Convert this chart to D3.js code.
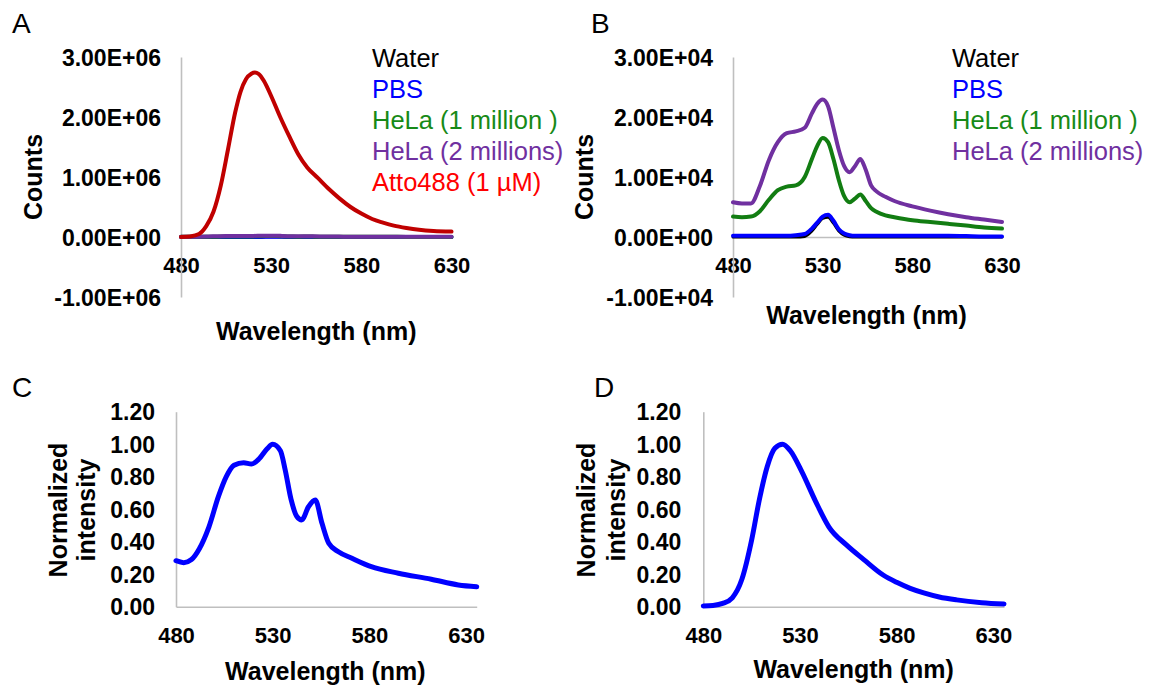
<!DOCTYPE html>
<html><head><meta charset="utf-8">
<script src="https://cdn.jsdelivr.net/npm/d3@7"></script>
<style>
body{margin:0;background:#fff;}
svg{display:block;}
</style></head><body>
<svg id="chart" width="1157" height="686"></svg>
<script>
// ---------- DATA ----------
const xTicks = [480, 530, 580, 630];
const countTicksA = [-1e6, 0, 1e6, 2e6, 3e6];
const countTicksB = [-1e4, 0, 1e4, 2e4, 3e4];
const normTicks = [0, 0.2, 0.4, 0.6, 0.8, 1.0, 1.2];

const legendNames = ["Water", "PBS", "HeLa (1 million )", "HeLa (2 millions)", "Atto488 (1 µM)"];

// Atto488 emission (counts)
const wlAtto = [480, 485, 490, 494, 498, 502, 506, 510, 513, 516, 519, 521, 523, 526, 530, 535, 540, 545, 550, 556, 562, 568, 574, 580, 586, 592, 598, 605, 612, 620, 630];
const atto488 = [0, 10000, 50000, 180000, 420000, 850000, 1450000, 2070000, 2420000, 2630000, 2720000, 2740000, 2720000, 2600000, 2350000, 2000000, 1680000, 1380000, 1160000, 980000, 800000, 640000, 500000, 390000, 300000, 240000, 190000, 150000, 120000, 100000, 90000];

// Background samples (counts)
const wlBg = [480, 485, 490, 495, 500, 505, 510, 515, 520, 524, 527, 530, 533, 536, 539, 542, 545, 548, 551, 554, 557, 560, 565, 570, 580, 590, 600, 610, 620, 630];
const water = [0, 0, 0, 0, 0, 0, 0, 0, 100, 1000, 2100, 3100, 3300, 2300, 1000, 300, 50, 0, 0, 0, 0, 0, 0, 0, 0, 0, 0, 0, 0, 0];
const pbs = [200, 200, 200, 200, 200, 200, 200, 300, 500, 1400, 2400, 3400, 3700, 2700, 1300, 600, 300, 200, 200, 200, 200, 200, 200, 200, 200, 200, 200, 150, 100, 100];
const hela1 = [3400, 3300, 3400, 4300, 6200, 7800, 8400, 8600, 10000, 13000, 15200, 16500, 15800, 13000, 9500, 6800, 5800, 6400, 7100, 6000, 4800, 4200, 3600, 3300, 2800, 2500, 2200, 1900, 1600, 1400];
const hela2 = [5800, 5600, 5600, 8500, 12800, 15800, 17300, 17600, 18200, 20600, 22200, 22900, 21800, 18200, 14500, 11800, 10800, 11800, 13000, 11200, 8600, 7600, 6700, 6000, 5100, 4400, 3800, 3300, 2900, 2500];

// Normalized spectra
const wlC = [480, 484, 488, 492, 497, 502, 506, 510, 515, 519, 523, 527, 530, 534, 536.5, 539.5, 542.5, 545, 548.5, 552, 555.5, 559, 564, 571, 581, 595, 612, 626, 635.5];
const normC = [0.283, 0.271, 0.29, 0.355, 0.49, 0.68, 0.80, 0.87, 0.886, 0.878, 0.91, 0.97, 1.0, 0.96, 0.84, 0.66, 0.555, 0.534, 0.615, 0.657, 0.513, 0.39, 0.338, 0.298, 0.246, 0.206, 0.169, 0.134, 0.123];
const wlD = [480, 485, 490, 495, 500, 505, 509, 513, 517, 521, 525, 531, 538, 545, 554, 563, 573, 580, 587, 594, 602, 611, 624, 635.5];
const normD = [0.005, 0.008, 0.02, 0.055, 0.17, 0.41, 0.66, 0.86, 0.975, 1.0, 0.96, 0.83, 0.65, 0.49, 0.38, 0.29, 0.195, 0.15, 0.113, 0.085, 0.06, 0.042, 0.025, 0.017];

// ---------- STYLE ----------
const FONT = "'Liberation Sans', Arial, Helvetica, sans-serif";
const AXIS_GRAY = "#bfbfbf";
const C_WATER = "#000000", C_PBS = "#0000ff", C_H1 = "#127d12", C_H2 = "#7030a0", C_ATTO = "#c00000";
const legendColors = ["#000000", "#0000ff", "#178a17", "#7030a0", "#ff0000"];

const svg = d3.select("#chart").style("font-family", FONT);

function sciFmt(v) {
  if (v === 0) return "0.00E+00";
  const e = Math.floor(Math.log10(Math.abs(v)));
  const m = v / Math.pow(10, e);
  return m.toFixed(2) + "E+" + String(e).padStart(2, "0");
}

function panel(cfg) {
  const x = d3.scaleLinear().domain(cfg.xDomain).range(cfg.xRange);
  const y = d3.scaleLinear().domain(cfg.yDomain).range(cfg.yRange);

  // x axis at zero
  const xa = svg.append("g")
    .attr("transform", `translate(0,${y(0)})`)
    .call(d3.axisBottom(x).tickValues(xTicks).tickFormat(d3.format("d")).tickSize(0).tickSizeOuter(0));
  xa.attr("font-size", 22).attr("font-family", FONT).attr("font-weight", "bold");
  xa.select(".domain").attr("stroke", AXIS_GRAY).attr("stroke-width", 1.6);
  xa.selectAll(".tick text").attr("y", 28).attr("dy", "0.36em").attr("fill", "#000");

  // y axis
  const ya = svg.append("g")
    .attr("transform", `translate(${cfg.xRange[0]},0)`)
    .call(d3.axisLeft(y).tickValues(cfg.yTicks).tickFormat(cfg.yFmt).tickSize(0).tickSizeOuter(0).tickPadding(cfg.yPad));
  ya.attr("font-size", 23).attr("font-family", FONT).attr("font-weight", "bold");
  ya.select(".domain").attr("stroke", AXIS_GRAY).attr("stroke-width", 1.6);
  ya.selectAll(".tick text").attr("dy", "0.36em").attr("fill", "#000");

  // lines
  const line = d3.line().x(d => x(d[0])).y(d => y(d[1])).curve(d3.curveMonotoneX);
  cfg.series.forEach(s => {
    svg.append("path")
      .datum(d3.zip(s.wl, s.values))
      .attr("d", line)
      .attr("fill", "none")
      .attr("stroke", s.color)
      .attr("stroke-width", s.width)
      .attr("stroke-linejoin", "round")
      .attr("stroke-linecap", "round");
  });

  // panel letter
  svg.append("text").attr("x", cfg.letterPos[0]).attr("y", cfg.letterPos[1])
    .attr("font-size", 28).attr("fill", "#000").text(cfg.letter);

  // x title
  svg.append("text")
    .attr("x", (cfg.xRange[0] + cfg.xRange[1]) / 2 + cfg.xTitleDx)
    .attr("y", cfg.xTitleY)
    .attr("text-anchor", "middle").attr("font-size", 25).attr("font-weight", "bold")
    .text("Wavelength (nm)");

  // y title lines (rotated)
  cfg.yTitle.forEach((t, i) => {
    svg.append("text")
      .attr("transform", `translate(${cfg.yTitleX[i]},${cfg.yTitleCy}) rotate(-90)`)
      .attr("text-anchor", "middle").attr("font-size", 25).attr("font-weight", "bold")
      .text(t);
  });

  // legend
  if (cfg.legend) {
    cfg.legend.forEach((name, i) => {
      svg.append("text")
        .attr("x", cfg.legendX).attr("y", 58.3 + i * 31)
        .attr("dy", "0.36em").attr("font-size", 25.5)
        .attr("fill", legendColors[i])
        .text(name);
    });
  }
}

const bgSeries = [
  { wl: wlBg, values: water, color: C_WATER, width: 3 },
  { wl: wlBg, values: pbs, color: C_PBS, width: 4 },
  { wl: wlBg, values: hela1, color: C_H1, width: 4 },
  { wl: wlBg, values: hela2, color: C_H2, width: 4 }
];

// Panel A
panel({
  letter: "A", letterPos: [12, 33],
  xDomain: [480, 630], xRange: [181, 451.5],
  yDomain: [-1e6, 3e6], yRange: [297, 57],
  yTicks: countTicksA, yFmt: sciFmt, yPad: 20,
  series: bgSeries.concat([{ wl: wlAtto, values: atto488, color: C_ATTO, width: 4 }]),
  xTitleY: 340, xTitleDx: 0,
  yTitle: ["Counts"], yTitleX: [41.5], yTitleCy: 177,
  legend: legendNames, legendX: 372
});

// Panel B
panel({
  letter: "B", letterPos: [591, 33],
  xDomain: [480, 630], xRange: [733, 1002],
  yDomain: [-1e4, 3e4], yRange: [297, 57],
  yTicks: countTicksB, yFmt: sciFmt, yPad: 20,
  series: bgSeries,
  xTitleY: 324, xTitleDx: -1,
  yTitle: ["Counts"], yTitleX: [593], yTitleCy: 177,
  legend: legendNames.slice(0, 4), legendX: 952
});

// Panel C
panel({
  letter: "C", letterPos: [12, 396.7],
  xDomain: [480, 635.5], xRange: [176, 476.7],
  yDomain: [0, 1.2], yRange: [606.7, 411.7],
  yTicks: normTicks, yFmt: d3.format(".2f"), yPad: 21,
  series: [{ wl: wlC, values: normC, color: "#0000ff", width: 5 }],
  xTitleY: 680, xTitleDx: -1,
  yTitle: ["Normalized", "intensity"], yTitleX: [67, 95], yTitleCy: 510
});

// Panel D
panel({
  letter: "D", letterPos: [594, 396.7],
  xDomain: [480, 635.5], xRange: [703.3, 1004],
  yDomain: [0, 1.2], yRange: [606.7, 411.7],
  yTicks: normTicks, yFmt: d3.format(".2f"), yPad: 22,
  series: [{ wl: wlD, values: normD, color: "#0000ff", width: 5 }],
  xTitleY: 678, xTitleDx: 0,
  yTitle: ["Normalized", "intensity"], yTitleX: [595, 625], yTitleCy: 510
});
</script>
</body></html>
